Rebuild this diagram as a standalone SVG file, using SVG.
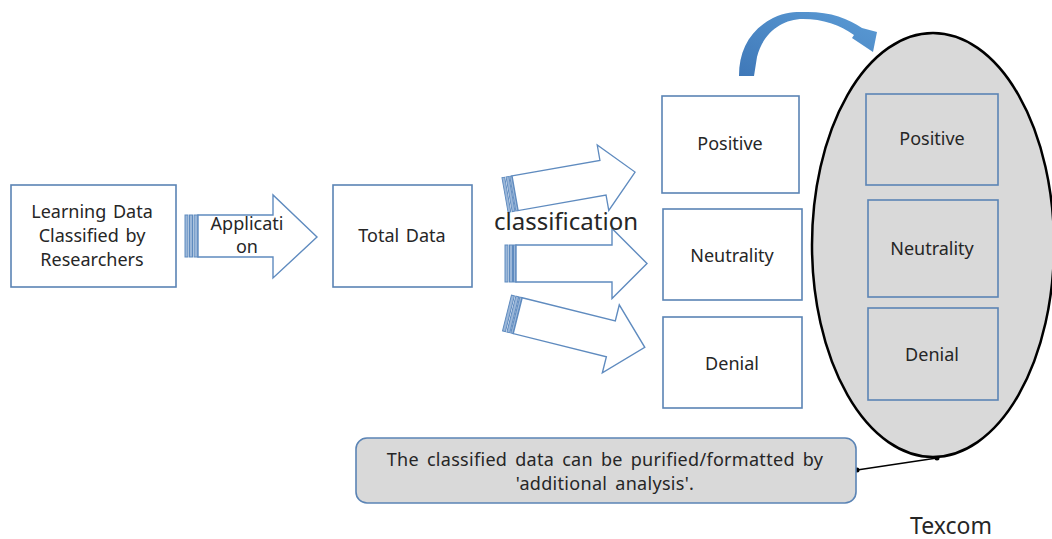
<svg xmlns="http://www.w3.org/2000/svg" width="1052" height="539" viewBox="0 0 1052 539">
<style>
.box{fill:#ffffff;stroke:#5b84b5;stroke-width:1.6}
.gbox{fill:#d9d9d9;stroke:#5b84b5;stroke-width:1.6}
.arr{fill:#ffffff;stroke:#5f8bbf;stroke-width:1.4}
.stripe{fill:#9bb7d9;stroke:#5f8bbf;stroke-width:1}
.t{font-family:"Noto Sans","Open Sans",sans-serif;font-size:18px;fill:#262626;text-anchor:middle;word-spacing:2px}
</style>
<defs>
<linearGradient id="bluegrad" x1="0" y1="1" x2="1" y2="0">
<stop offset="0" stop-color="#3f78b8"/>
<stop offset="1" stop-color="#5b9bd5"/>
</linearGradient>
<g id="carrow">
<rect class="stripe" x="0" y="-18.5" width="3" height="37"/>
<rect class="stripe" x="4.5" y="-18.5" width="3" height="37"/>
<rect class="stripe" x="8.5" y="-18.5" width="2.5" height="37"/>
<path class="arr" d="M11,-18.5 L107,-18.5 L107,-35 L142,0 L107,35 L107,18.5 L11,18.5 Z"/>
</g>
</defs>
<rect width="1052" height="539" fill="#ffffff"/>

<g id="connectors">
<g id="arrow-application">
<rect class="stripe" x="185" y="215" width="3" height="42"/>
<rect class="stripe" x="189.5" y="215" width="3" height="42"/>
<rect class="stripe" x="194" y="215" width="4" height="42"/>
<path class="arr" d="M198,215 L273,215 L273,195 L317,237 L273,278 L273,257 L198,257 Z"/>
</g>
<use href="#carrow" transform="translate(505,195) rotate(-10) scale(0.93,0.95)"/>
<use href="#carrow" transform="translate(505,263.5)"/>
<use href="#carrow" transform="translate(507,313) rotate(14)"/>
<path id="curved-arrow" d="M739,76 C739,50 750,30 773,18 C785,12 795,12 803,12 C828,11 848,18 862,28 L877,32 L873,52 L852,38 L854,35 C840,25 823,19 803,19 C782,19 763,33 757,57 L754,76 Z" fill="url(#bluegrad)"/>
<line x1="857" y1="470" x2="937" y2="458" stroke="#000" stroke-width="1.5"/>
<circle cx="857" cy="470" r="2.5" fill="#000"/>
<circle cx="937" cy="458" r="2.5" fill="#000"/>
</g>

<g id="node-learning">
<rect class="box" x="11" y="185" width="165" height="102"/>
<text class="t" x="92" y="218">Learning Data</text>
<text class="t" x="92" y="242">Classified by</text>
<text class="t" x="92" y="266">Researchers</text>
</g>
<g id="label-application">
<text class="t" x="247" y="230">Applicati</text>
<text class="t" x="247" y="253">on</text>
</g>
<g id="node-total">
<rect class="box" x="333" y="185" width="139" height="102"/>
<text class="t" x="402" y="242">Total Data</text>
</g>
<g id="label-classification">
<text class="t" x="566" y="230" style="font-size:24px">classification</text>
</g>
<g id="node-positive">
<rect class="box" x="662" y="96" width="137" height="97"/>
<text class="t" x="730" y="150">Positive</text>
</g>
<g id="node-neutrality">
<rect class="box" x="663" y="209" width="139" height="91"/>
<text class="t" x="732" y="262">Neutrality</text>
</g>
<g id="node-denial">
<rect class="box" x="663" y="317" width="139" height="91"/>
<text class="t" x="732" y="370">Denial</text>
</g>

<g id="node-texcom">
<ellipse cx="933" cy="245" rx="121" ry="212" fill="#d9d9d9" stroke="#000" stroke-width="2.5"/>
<rect class="gbox" x="866" y="94" width="132" height="91"/>
<text class="t" x="932" y="145">Positive</text>
<rect class="gbox" x="868" y="200" width="130" height="97"/>
<text class="t" x="932" y="255">Neutrality</text>
<rect class="gbox" x="868" y="308" width="130" height="92"/>
<text class="t" x="932" y="361">Denial</text>
</g>
<text class="t" x="951" y="534" style="font-size:23px">Texcom</text>

<g id="node-callout">
<rect x="356" y="438" width="500" height="65" rx="11" fill="#d9d9d9" stroke="#5b84b5" stroke-width="1.6"/>
<text class="t" x="605" y="466" style="letter-spacing:0.3px;word-spacing:3px">The classified data can be purified/formatted by</text>
<text class="t" x="605" y="490" style="letter-spacing:0.3px;word-spacing:3px">'additional analysis'.</text>
</g>
</svg>
